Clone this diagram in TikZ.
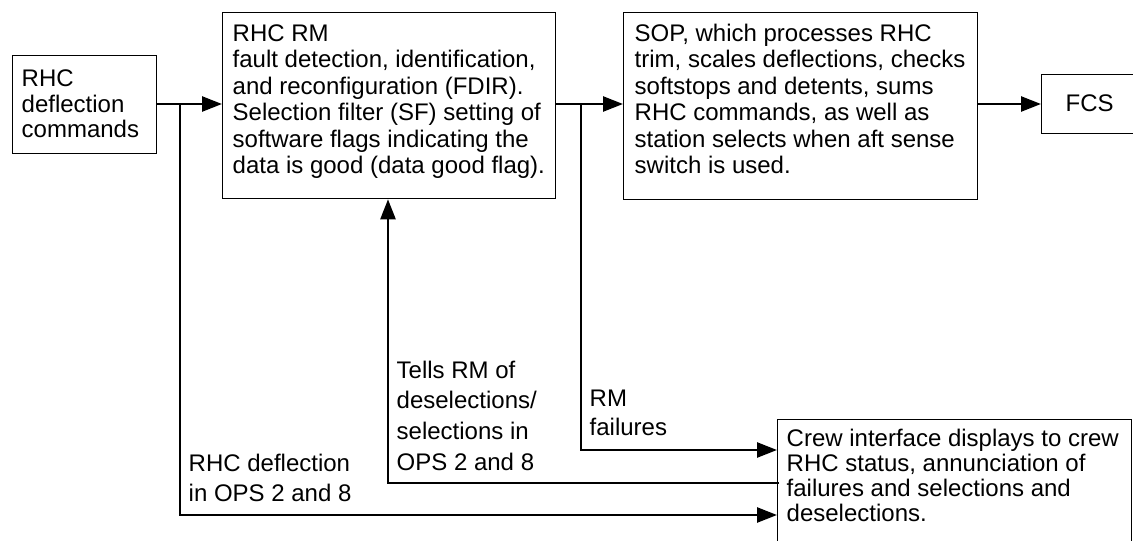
\documentclass[tikz,border=0pt]{standalone}
\usepackage{fontspec}
\setmainfont{Liberation Sans}
\usetikzlibrary{arrows.meta}
\tikzset{
  box/.style={draw, line width=1.3pt, inner sep=0pt, anchor=north west},
  txt/.style={anchor=north west, inner sep=0pt, align=left},
  conn/.style={line width=2.5pt},
  arr/.style={conn, -{Triangle[length=20pt,width=15pt]}},
}
\newcommand{\fs}[1]{\fontsize{24}{#1}\selectfont}
\newcommand{\st}{\rule{0pt}{18pt}}
\begin{document}
\begin{tikzpicture}[x=1pt,y=-1pt]
\clip (0,0) rectangle (1133,541);
\fill[white] (0,0) rectangle (1133,541);
% boxes
\node[box, minimum width=144pt, minimum height=98pt] (rhc) at (12,55) {};
\node[box, minimum width=333pt, minimum height=186pt] (rm) at (222,12) {};
\node[box, minimum width=354pt, minimum height=187pt] (sop) at (623,12) {};
\node[box, minimum width=100pt, minimum height=59pt] (fcs) at (1041,74) {};
\node[box, minimum width=354pt, minimum height=135pt] (crew) at (777,419) {};
% texts
\node[txt, font=\fs{25.5}] (rhct) at (21.5,68.6) {\st RHC\\deflection\\commands};
\node[txt, font=\fs{26.5}] (rmt) at (232.5,23) {\st RHC RM\\fault detection, identification,\\and reconfiguration (FDIR).\\Selection filter (SF) setting of\\software flags indicating the\\data is good (data good flag).};
\node[txt, font=\fs{26.5}] (sopt) at (634.5,23) {\st SOP, which processes RHC\\trim, scales deflections, checks\\softstops and detents, sums\\RHC commands, as well as\\station selects when aft sense\\switch is used.};
\node[txt, font=\fs{27}] (fcst) at (1065.5,93.6) {\st FCS};
\node[txt, font=\fs{25}] (crewt) at (786.5,428) {\st Crew interface displays to crew\\RHC status, annunciation of\\failures and selections and\\deselections.};
\node[txt, font=\fs{30}] (l1) at (188.5,453) {\st RHC deflection\\in OPS 2 and 8};
\node[txt, font=\fs{30.7}] (l2) at (396.5,360) {\st Tells RM of\\deselections/\\selections in\\OPS 2 and 8};
\node[txt, font=\fs{29}] (l3) at (589.5,388.6) {\st RM\\failures};
% helper coordinates
\coordinate (ymain) at (0,104);
\coordinate (j1) at (180,104);
\coordinate (j2) at (581,104);
\coordinate (ylow) at (0,515);
\coordinate (yfail) at (0,450);
\coordinate (ytell) at (0,483);
\coordinate (xtell) at (388,0);
% connectors
\draw[arr] (rhc.east |- ymain) -- (rm.west |- ymain);
\draw[arr] (rm.east |- ymain) -- (sop.west |- ymain);
\draw[arr] (sop.east |- ymain) -- (fcs.west |- ymain);
\draw[arr] (j1) |- (crew.west |- ylow);
\draw[arr] (j2) |- (crew.west |- yfail);
\draw[arr] ([xshift=2pt]crew.west |- ytell) -| (xtell |- rm.south);
\end{tikzpicture}
\end{document}
